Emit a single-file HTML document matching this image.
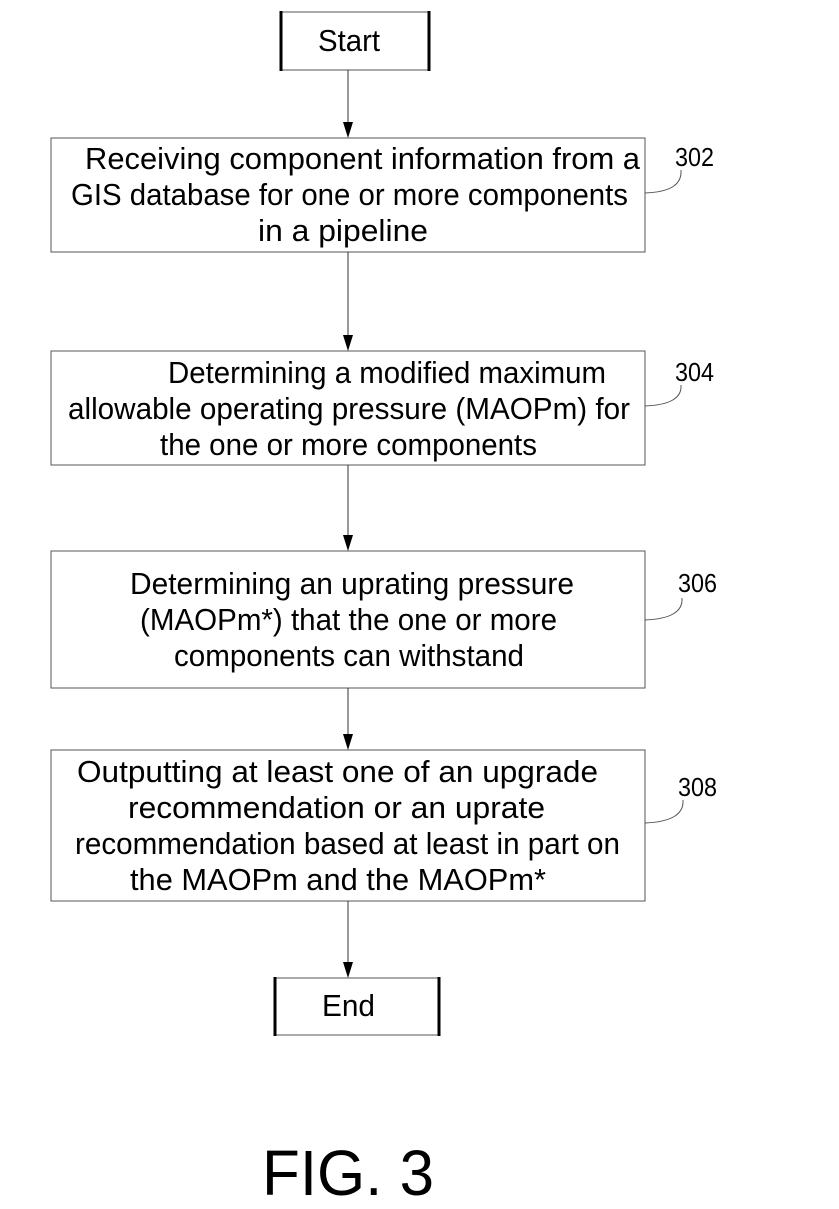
<!DOCTYPE html>
<html><head><meta charset="utf-8"><style>
html,body{margin:0;padding:0;background:#fff;}
svg{display:block;}
text{font-family:"Liberation Sans",Arial,sans-serif;fill:#000;}
</style></head><body>
<svg width="839" height="1209" viewBox="0 0 839 1209" xmlns="http://www.w3.org/2000/svg">
<g stroke="#555" stroke-width="1" fill="none">
<line x1="281" y1="12" x2="429" y2="12"/><line x1="281" y1="70" x2="429" y2="70"/>
<rect x="51" y="138" width="594" height="114"/>
<rect x="51" y="351" width="594" height="114"/>
<rect x="51" y="551" width="594" height="137"/>
<rect x="51" y="750" width="594" height="151"/>
<line x1="275" y1="978" x2="439" y2="978"/><line x1="275" y1="1035" x2="439" y2="1035"/>
<path d="M645,193 C670,192 682,185 681,170"/>
<path d="M645,406 C670,405 682,398 681,385"/>
<path d="M645,620 C670,619 683,612 682,598"/>
<path d="M645,823 C670,822 684,815 683,800"/>
</g>
<g stroke="#000" stroke-width="3">
<line x1="281" y1="11" x2="281" y2="71"/><line x1="429" y1="11" x2="429" y2="71"/>
<line x1="275" y1="977" x2="275" y2="1036"/><line x1="439" y1="977" x2="439" y2="1036"/>
</g>
<g stroke="#333" stroke-width="1">
<line x1="348" y1="70" x2="348" y2="124"/>
<line x1="348" y1="252" x2="348" y2="337"/>
<line x1="348" y1="465" x2="348" y2="537"/>
<line x1="348" y1="688" x2="348" y2="736"/>
<line x1="348" y1="901" x2="348" y2="964"/>
</g>
<g fill="#000">
<polygon points="343,122 353,122 348,138"/>
<polygon points="343,335 353,335 348,351"/>
<polygon points="343,535 353,535 348,551"/>
<polygon points="343,734 353,734 348,750"/>
<polygon points="343,962 353,962 348,978"/>
</g>
<g font-size="31">
<text x="318" y="51" textLength="62" lengthAdjust="spacingAndGlyphs">Start</text>
<text x="85" y="169" textLength="555" lengthAdjust="spacingAndGlyphs">Receiving component information from a</text>
<text x="71" y="205" textLength="557" lengthAdjust="spacingAndGlyphs">GIS database for one or more components</text>
<text x="258" y="241" textLength="170" lengthAdjust="spacingAndGlyphs">in a pipeline</text>
<text x="168" y="383" textLength="438" lengthAdjust="spacingAndGlyphs">Determining a modified maximum</text>
<text x="68" y="419" textLength="562" lengthAdjust="spacingAndGlyphs">allowable operating pressure (MAOPm) for</text>
<text x="160" y="455" textLength="377" lengthAdjust="spacingAndGlyphs">the one or more components</text>
<text x="130" y="594" textLength="444" lengthAdjust="spacingAndGlyphs">Determining an uprating pressure</text>
<text x="140" y="630" textLength="417" lengthAdjust="spacingAndGlyphs">(MAOPm*) that the one or more</text>
<text x="174" y="666" textLength="350" lengthAdjust="spacingAndGlyphs">components can withstand</text>
<text x="77" y="782" textLength="521" lengthAdjust="spacingAndGlyphs">Outputting at least one of an upgrade</text>
<text x="128" y="818" textLength="417" lengthAdjust="spacingAndGlyphs">recommendation or an uprate</text>
<text x="75" y="854" textLength="545" lengthAdjust="spacingAndGlyphs">recommendation based at least in part on</text>
<text x="130" y="890" textLength="416" lengthAdjust="spacingAndGlyphs">the MAOPm and the MAOPm*</text>
<text x="322" y="1016" textLength="53" lengthAdjust="spacingAndGlyphs">End</text>
</g>
<g font-size="26">
<text x="675" y="166" textLength="39" lengthAdjust="spacingAndGlyphs">302</text>
<text x="675" y="381" textLength="39" lengthAdjust="spacingAndGlyphs">304</text>
<text x="678" y="592" textLength="39" lengthAdjust="spacingAndGlyphs">306</text>
<text x="678" y="796" textLength="39" lengthAdjust="spacingAndGlyphs">308</text>
</g>
<text x="262" y="1195" font-size="64" textLength="172" lengthAdjust="spacingAndGlyphs">FIG. 3</text>
</svg>
</body></html>
